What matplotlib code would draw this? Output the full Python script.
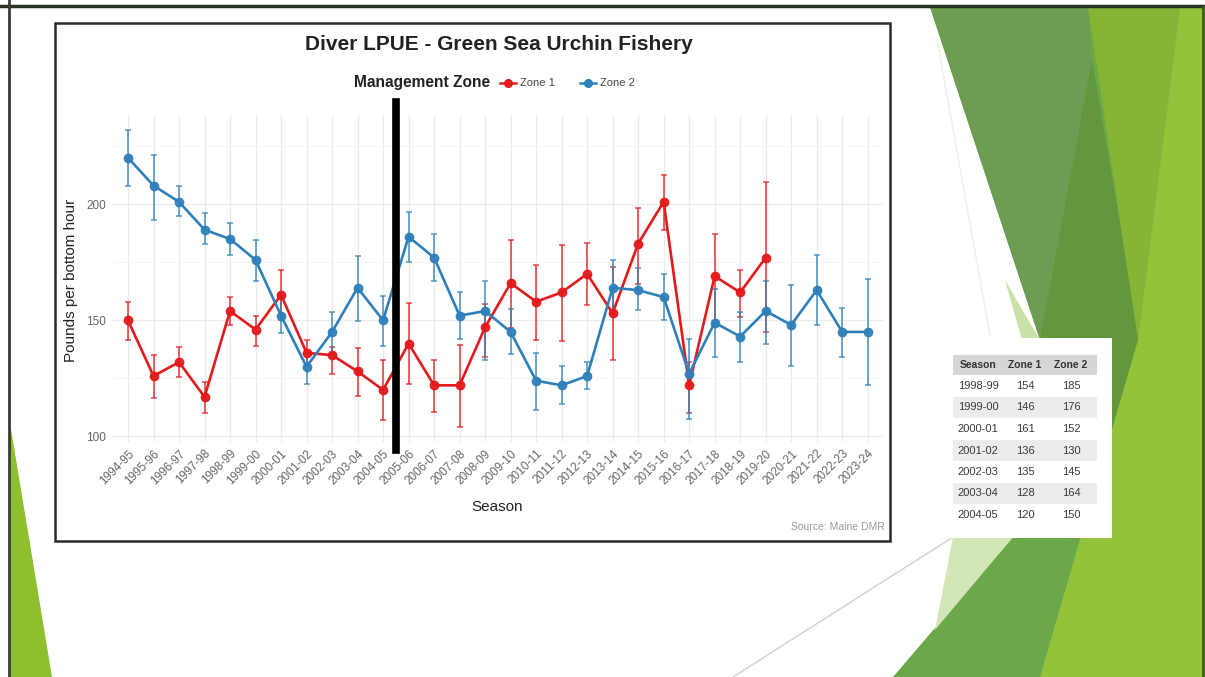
import matplotlib
matplotlib.use('Agg')
import matplotlib.pyplot as plt
from matplotlib.patches import Polygon, Rectangle
from matplotlib.ticker import FixedLocator

plt.rcParams['font.family'] = ['Liberation Sans', 'DejaVu Sans']

# ---------------- data ----------------
seasons = ['1994-95', '1995-96', '1996-97', '1997-98', '1998-99', '1999-00',
           '2000-01', '2001-02', '2002-03', '2003-04', '2004-05', '2005-06',
           '2006-07', '2007-08', '2008-09', '2009-10', '2010-11', '2011-12',
           '2012-13', '2013-14', '2014-15', '2015-16', '2016-17', '2017-18',
           '2018-19', '2019-20', '2020-21', '2021-22', '2022-23', '2023-24']

zone1 = [150, 126, 132, 117, 154, 146, 161, 136, 135, 128, 120, 140, 122,
         122, 147, 166, 158, 162, 170, 153, 183, 201, 122, 169, 162, 177]
zone1_hi = [158, 135, 138.5, 123.5, 160, 152, 171.5, 141.5, 138.5, 138, 133,
            157.5, 133, 139.5, 157, 184.5, 174, 182.5, 183.5, 173, 198.5,
            212.5, 132, 187, 171.5, 209.5]
zone1_lo = [141.5, 116.5, 125.5, 110, 148, 139, 150, 130, 127, 117.5, 107,
            122.5, 110.5, 104, 134, 146.5, 141.5, 141, 156.5, 133, 165.5,
            189, 110, 149, 151.5, 145]

zone2 = [220, 208, 201, 189, 185, 176, 152, 130, 145, 164, 150, 186, 177,
         152, 154, 145, 124, 122, 126, 164, 163, 160, 127, 149, 143, 154,
         148, 163, 145, 145]
zone2_hi = [232, 221, 208, 196, 192, 184.5, 161, 136.5, 153.5, 177.5, 160.5,
            196.5, 187, 162, 167, 155, 136, 130.5, 132, 176, 172.5, 170, 142,
            163.5, 153.5, 167, 165, 178, 155.5, 168]
zone2_lo = [208, 193, 195, 183, 178, 167, 144.5, 122.5, 135.5, 149.5, 139,
            175, 167, 142, 133, 135.5, 111.5, 114, 120.5, 153, 154.5, 150,
            107.5, 134, 132, 140, 130.5, 148, 134, 122]

zone_names = ['Zone 1', 'Zone 2']
zone_colors = ['#E41A1C', '#2F80BA']
split_after = '2004-05'      # management zone change
table_rows = seasons[4:11]
table_cols = ['Season', 'Zone 1', 'Zone 2']

# ---------------- figure ----------------
W, H = 1205, 677
fig = plt.figure(figsize=(W / 100, H / 100), dpi=100)
bg = fig.add_axes([0, 0, 1, 1])
bg.set_xlim(0, W)
bg.set_ylim(H, 0)
bg.axis('off')

# slide decoration
shapes = [
    ([(930, 7), (1205, 7), (1205, 677), (893, 677), (1013, 537), (1040, 340)], '#6aa84a'),
    ([(930, 7), (1088, 7), (1092, 70), (1040, 340)], '#6c9d52'),
    ([(1092, 60), (1140, 340), (1125, 470), (1040, 340)], '#62973d'),
    ([(1088, 7), (1180, 7), (1138, 340)], '#86b535'),
    ([(1180, 7), (1205, 7), (1205, 677), (1040, 677), (1138, 340)], '#93c33a'),
    ([(953, 537), (1013, 537), (935, 630)], '#d3e6b6'),
    ([(1005, 280), (1040, 340), (1022, 340)], '#c9e0a8'),
    ([(10, 423), (10, 677), (52, 677)], '#8dc02c'),
]
for pts, col in shapes:
    bg.add_patch(Polygon(pts, closed=True, fc=col, ec='none', zorder=1))
bg.plot([733, 953], [677, 537], color='#d0d0d0', lw=1, zorder=1)
bg.plot([937, 990], [40, 335], color='#eef3e8', lw=1.2, zorder=1)
bg.plot([0, W], [6, 6], color='#2a3324', lw=2.5, zorder=2)
bg.plot([9, 9], [0, H], color='#3a3a3a', lw=2, zorder=2)
bg.plot([1203, 1203], [7, H], color='#3c5e22', lw=2, zorder=2)

# chart frame
bg.add_patch(Rectangle((55, 23), 835, 518, fc='white', ec='#2b2b2b', lw=1.8, zorder=3))

# table
bg.add_patch(Rectangle((948, 338), 164, 200, fc='white', ec='none', zorder=3))
bg.add_patch(Rectangle((953, 355), 144, 20, fc='#d6d6d6', ec='none', zorder=4))
col_x = [978, 1025, 1071]
for cx, name in zip(col_x, table_cols):
    bg.text(cx, 365.5, name, ha='center', va='center', fontsize=7.5,
            fontweight='bold', color='#333333', zorder=5)
row_h = 21.5
for i, s in enumerate(table_rows):
    cy = 386 + i * row_h
    if i % 2 == 1:
        bg.add_patch(Rectangle((953, cy - row_h / 2), 144, row_h, fc='#ececec',
                               ec='none', zorder=4))
    k = seasons.index(s)
    vals = [s, f'{zone1[k]:.0f}', f'{zone2[k]:.0f}']
    for cx, v in zip(col_x, vals):
        bg.text(cx, cy, v, ha='center', va='center', fontsize=8,
                color='#3a3a3a', zorder=5)

# titles
bg.text(499, 45, 'Diver LPUE - Green Sea Urchin Fishery', ha='center', va='center',
        fontsize=15, fontweight='bold', color='#222222', zorder=5)
bg.text(422, 83, 'Management Zone', ha='center', va='center', fontsize=11.2,
        fontweight='bold', color='#222222', zorder=5)
for kx, tx, name, col in zip([508, 588], [520, 600], zone_names, zone_colors):
    bg.plot([kx - 8, kx + 8], [83, 83], color=col, lw=1.8, zorder=5)
    bg.plot([kx], [83], marker='o', ms=5.5, color=col, zorder=5)
    bg.text(tx, 83.5, name, ha='left', va='center', fontsize=8, color='#444444', zorder=5)
bg.text(885, 527, 'Source: Maine DMR', ha='right', va='center', fontsize=7.5,
        color='#9a9a9a', zorder=5)
bg.text(497, 507, 'Season', ha='center', va='center', fontsize=11, color='#222222', zorder=5)
bg.text(71, 280, 'Pounds per bottom hour', ha='center', va='center', rotation=90,
        fontsize=11, color='#222222', zorder=5)

# ---------------- main axes ----------------
left, right, top, bottom = 112.7, 883.0, 115.0, 442.0
ax = fig.add_axes([left / W, 1 - bottom / H, (right - left) / W, (bottom - top) / H])
ax.set_zorder(6)
ax.set_facecolor('none')
for sp in ax.spines.values():
    sp.set_visible(False)

x_all = list(range(len(seasons)))
series = [(zone1, zone1_lo, zone1_hi), (zone2, zone2_lo, zone2_hi)]
for (v, lo, hi), col in zip(series, zone_colors):
    xs = x_all[:len(v)]
    ax.errorbar(xs, v, yerr=[[a - b for a, b in zip(v, lo)], [c - a for a, c in zip(v, hi)]],
                fmt='none', ecolor=col, elinewidth=1.3, capsize=2.5, capthick=1.2,
                alpha=0.75, zorder=3)
for (v, lo, hi), col in zip(series, zone_colors):
    xs = x_all[:len(v)]
    ax.plot(xs, v, color=col, lw=1.9, zorder=4)
    ax.plot(xs, v, 'o', color=col, ms=6, zorder=5, alpha=0.95)

split_x = seasons.index(split_after) + 0.5
ax.plot([split_x, split_x], [94, 244], color='black', lw=5.5, clip_on=False, zorder=7)

ax.set_xlim(-0.6, len(seasons) - 1 + 0.6)
ax.set_ylim(97.6, 238.4)
ax.set_xticks(x_all)
ax.set_xticklabels(seasons, rotation=45, ha='right', rotation_mode='anchor',
                   fontsize=8.5, color='#666666')
ax.yaxis.set_major_locator(FixedLocator([100, 150, 200]))
ax.yaxis.set_minor_locator(FixedLocator([125, 175, 225]))
ax.set_yticklabels(['100', '150', '200'], fontsize=8.5, color='#666666')
ax.tick_params(axis='both', which='both', length=0)
ax.tick_params(axis='x', pad=4)
ax.tick_params(axis='y', pad=5)
ax.grid(which='major', color='#ebebeb', lw=0.9, zorder=0)
ax.grid(which='minor', axis='y', color='#f2f2f2', lw=0.5, zorder=0)
ax.set_axisbelow(True)

fig.savefig('out.png', dpi=100)
